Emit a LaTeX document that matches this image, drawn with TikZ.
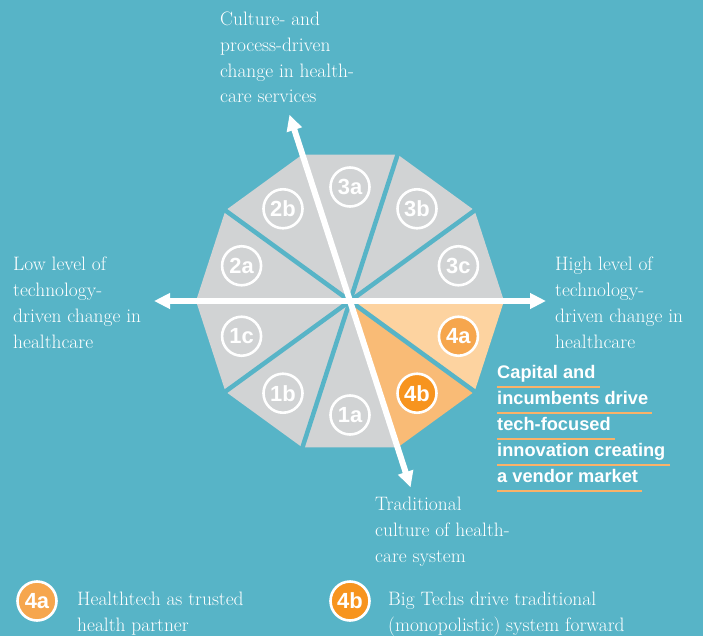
\documentclass[tikz,border=0pt]{standalone}
\usepackage{fontspec}
\newfontfamily\hsans{Liberation Sans}
\usetikzlibrary{arrows.meta,calc}
\definecolor{bg}{RGB}{87,180,199}
\definecolor{grayslice}{RGB}{209,211,212}
\definecolor{slicefa}{RGB}{253,211,160}
\definecolor{slicefb}{RGB}{249,187,118}
\definecolor{circfa}{RGB}{246,166,77}
\definecolor{circfb}{RGB}{247,148,30}
\definecolor{ulinecol}{RGB}{249,178,104}
\begin{document}
\begin{tikzpicture}[x=1bp,y=1bp,
  gap/.style={draw=bg,line width=4.5bp},
  axis/.style={draw=white,line width=6bp,{Triangle[length=16bp,width=15bp]}-{Triangle[length=16bp,width=15bp]}},
  badge/.style={circle,draw=white,line width=2.6bp,minimum size=39bp,inner sep=0pt,text=white,font=\hsans\bfseries\fontsize{22}{22}\selectfont},
  serif/.style={anchor=base west,inner sep=0pt,align=left,text=white,font=\fontsize{19.5}{26}\selectfont},
  boldtxt/.style={anchor=base west,inner sep=0pt,text=white,font=\hsans\bfseries\fontsize{18.3}{26}\selectfont},
  uline/.style={draw=ulinecol,line width=2bp}]
\fill[bg] (0,0) rectangle (703,-636);
\useasboundingbox (0,0) rectangle (703,-636);
\coordinate (C) at (350,-301);
\foreach \k in {0,...,9} \coordinate (v\k) at ($(C)+(36*\k:154)$);
% slices
\foreach \a/\b/\col in {0/1/grayslice,1/2/grayslice,2/3/grayslice,3/4/grayslice,4/5/grayslice,5/6/grayslice,6/7/grayslice,7/8/grayslice,8/9/slicefb,9/0/slicefa}
  \fill[\col] (C) -- (v\a) -- (v\b) -- cycle;
% gaps
\foreach \k in {1,2,4,6,7,9} {
  \coordinate (g\k) at ($(C)+(36*\k:160)$);
  \draw[gap] (C) -- (g\k);
}
% axes
\coordinate (aL) at ($(C)+(180:196)$);
\coordinate (aR) at ($(C)+(0:196)$);
\coordinate (aT) at ($(C)+(108:196)$);
\coordinate (aB) at ($(C)+(288:196)$);
\draw[axis] (aL) -- (aR);
\draw[axis] (aB) -- (aT);
% badges
\node[badge] (b3c) at ($(C)+(18:114)$) {3c};
\node[badge] (b3b) at ($(C)+(54:114)$) {3b};
\node[badge] (b3a) at ($(C)+(90:114)$) {3a};
\node[badge] (b2b) at ($(C)+(126:114)$) {2b};
\node[badge] (b2a) at ($(C)+(162:114)$) {2a};
\node[badge] (b1c) at ($(C)+(198:114)$) {1c};
\node[badge] (b1b) at ($(C)+(234:114)$) {1b};
\node[badge] (b1a) at ($(C)+(270:114)$) {1a};
\node[badge,fill=circfb] (b4b) at ($(C)+(306:114)$) {4b};
\node[badge,fill=circfa] (b4a) at ($(C)+(342:114)$) {4a};
% axis labels (anchor = baseline of last line)
\node[serif] (ttop) at (220,-103) {Culture- and\\process-driven\\change in health-\\care services};
\node[serif] (tleft) at (13,-348.7) {Low level of\\technology-\\driven change in\\healthcare};
\node[serif] (tright) at (555,-348.7) {High level of\\technology-\\driven change in\\healthcare};
\node[serif] (tbot) at (375,-562) {Traditional\\culture of health-\\care system};
% bold block
\node[boldtxt] (c1) at (497,-378.5) {Capital and};
\node[boldtxt] (c2) at (497,-404.5) {incumbents drive};
\node[boldtxt] (c3) at (497,-430.5) {tech-focused};
\node[boldtxt] (c4) at (497,-456.5) {innovation creating};
\node[boldtxt] (c5) at (497,-482.5) {a vendor market};
\foreach \n in {c1,c2,c3,c4,c5}
  \draw[uline] ($(\n.base west)+(0,-8)$) -- ($(\n.base east)+(4,-8)$);
% legend
\node[badge,fill=circfa] (l4a) at (37,-601) {4a};
\node[badge,fill=circfb] (l4b) at (350,-601) {4b};
\node[serif] (la) at (77,-631) {Healthtech as trusted\\health partner};
\node[serif] (lb) at (388,-631) {Big Techs drive traditional\\(monopolistic) system forward};
\end{tikzpicture}
\end{document}
